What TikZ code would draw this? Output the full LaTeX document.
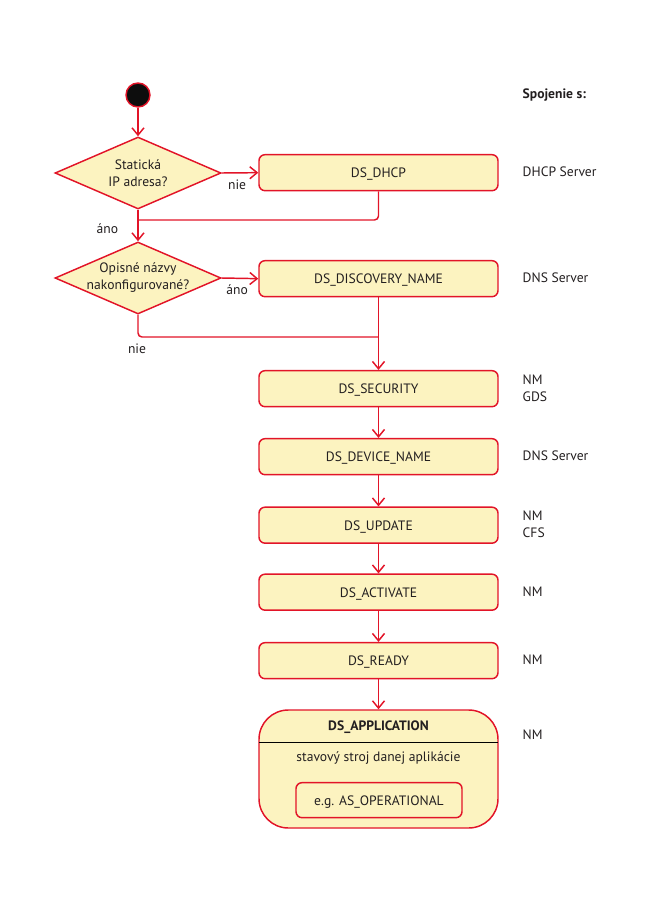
\documentclass[tikz,border=0pt]{standalone}
\usepackage{fontspec}
\setmainfont{PT Sans}
\usetikzlibrary{shapes.geometric,arrows.meta}
\definecolor{dsred}{RGB}{226,20,40}
\definecolor{dsfill}{RGB}{252,243,192}
\definecolor{dstext}{RGB}{35,31,32}
\begin{document}
\begin{tikzpicture}[x=0.75pt,y=-0.75pt,
  every node/.style={font=\fontsize{10.2}{12.75}\selectfont, text=dstext},
  state/.style={draw=dsred, fill=dsfill, line width=1.1pt, rounded corners=4.5pt,
    minimum width=179.25pt, minimum height=27pt, inner sep=0pt, text depth=0pt, yshift=-0.5pt},
  dia/.style={draw=dsred, fill=dsfill, diamond, line width=1.1pt,
    minimum width=124.5pt, minimum height=54pt, inner sep=0pt, aspect=2.3},
  flow/.style={draw=dsred, line width=1.1pt, -{Straight Barb[length=5.5pt,width=9pt]}},
  conn/.style={draw=dsred, line width=1.1pt, rounded corners=3pt},
  lbl/.style={anchor=west, align=left}]
\useasboundingbox (0,0) rectangle (650,910);

% start
\node[circle, fill=black!95, draw=dsred, line width=1.1pt, minimum size=18pt, inner sep=0pt] (start) at (138,95) {};

% decisions
\node[dia] (d1) at (138,173) {};
\node[align=center] (d1t) at (d1) {Statická\\IP adresa?};
\node[dia] (d2) at (138,278) {};
\node[align=center] (d2t) at (d2) {Opisné názvy\\nakonfigurované?};

% states
\node[state] (dhcp) at (378.5,172) {DS\_DHCP};
\node[state] (disc) at (378.5,278) {DS\_DISCOVERY\_NAME};
\node[state] (sec)  at (378.5,388) {DS\_SECURITY};
\node[state] (dev)  at (378.5,456) {DS\_DEVICE\_NAME};
\node[state] (upd)  at (378.5,524.5) {DS\_UPDATE};
\node[state] (act)  at (378.5,591.5) {DS\_ACTIVATE};
\node[state] (rdy)  at (378.5,660) {DS\_READY};

% application state
\node[draw=dsred, fill=dsfill, line width=1.1pt, rounded corners=22pt,
  minimum width=179.25pt, minimum height=88.5pt, inner sep=0pt] (app) at (378.5,769) {};
\node[font=\fontsize{10.2}{12.75}\selectfont\bfseries] (apptitle) at (378.5,727) {DS\_APPLICATION};
\coordinate (sepL) at (259,742);
\coordinate (sepR) at (498,742);
\draw[draw=black, line width=0.6pt] (sepL) -- (sepR);
\node (appsub) at (378.5,758) {stavový stroj danej aplikácie};
\node[state, minimum width=124.5pt, minimum height=26.25pt] (inner) at (379,799.5) {e.g. AS\_OPERATIONAL};

% connectors
\draw[flow] (start) -- (d1.north);
\draw[flow] (d1.east) -- (dhcp.west) node[pos=0.42, below=1pt] (lnie1) {nie};
\draw[flow] (d1.south) -- (d2.north) node[pos=0.6, left=11pt] (lano1) {áno};
\coordinate (j1) at (138,220);
\draw[conn] (dhcp.south) |- (j1);
\draw[flow] (d2.east) -- (disc.west) node[pos=0.42, below=1pt] (lano2) {áno};
\coordinate (j2) at (378.5,337);
\draw[conn] (d2.south) |- (j2);
\node (lnie2) at (137,349) {nie};
\draw[flow] (disc.south) -- (sec.north);
\draw[flow] (sec) -- (dev);
\draw[flow] (dev) -- (upd);
\draw[flow] (upd) -- (act);
\draw[flow] (act) -- (rdy);
\draw[flow] (rdy.south) -- (app.north);

% right column
\node[lbl, font=\fontsize{10.2}{12.75}\selectfont\bfseries] (hdr) at (518,95) {Spojenie s:};
\node[lbl] (c1) at (518,172) {DHCP Server};
\node[lbl] (c2) at (518,278) {DNS Server};
\node[lbl] (c3) at (518,388) {NM\\GDS};
\node[lbl] (c4) at (518,456) {DNS Server};
\node[lbl] (c5) at (518,524.5) {NM\\CFS};
\node[lbl] (c6) at (518,591.5) {NM};
\node[lbl] (c7) at (518,660) {NM};
\node[lbl] (c8) at (518,735) {NM};
\end{tikzpicture}
\end{document}
